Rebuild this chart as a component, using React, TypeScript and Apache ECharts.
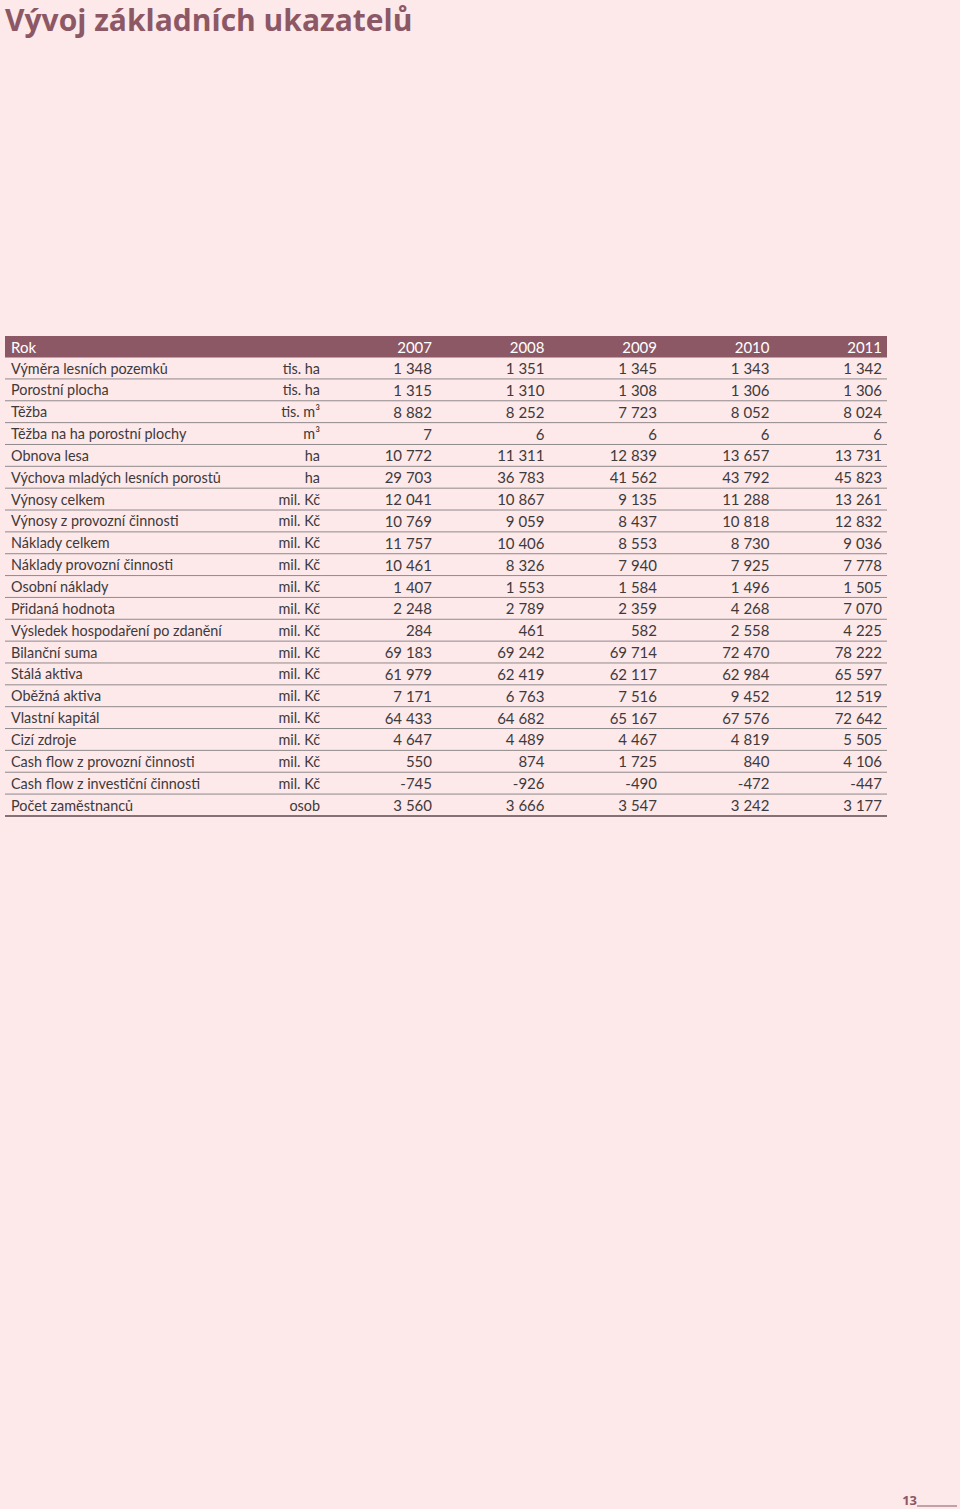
import React, { useEffect, useRef } from "react";
import * as echarts from "echarts";

const title = "Vývoj základních ukazatelů";
const years = ["2007", "2008", "2009", "2010", "2011"];
const rowLabels = [
  "Výměra lesních pozemků",
  "Porostní plocha",
  "Těžba",
  "Těžba na ha porostní plochy",
  "Obnova lesa",
  "Výchova mladých lesních porostů",
  "Výnosy celkem",
  "Výnosy z provozní činnosti",
  "Náklady celkem",
  "Náklady provozní činnosti",
  "Osobní náklady",
  "Přidaná hodnota",
  "Výsledek hospodaření po zdanění",
  "Bilanční suma",
  "Stálá aktiva",
  "Oběžná aktiva",
  "Vlastní kapitál",
  "Cizí zdroje",
  "Cash flow z provozní činnosti",
  "Cash flow z investiční činnosti",
  "Počet zaměstnanců",
];
const units = [
  "tis. ha", "tis. ha", "tis. m³", "m³", "ha", "ha",
  "mil. Kč", "mil. Kč", "mil. Kč", "mil. Kč", "mil. Kč", "mil. Kč", "mil. Kč",
  "mil. Kč", "mil. Kč", "mil. Kč", "mil. Kč", "mil. Kč", "mil. Kč", "mil. Kč",
  "osob",
];
const values2007 = [1348, 1315, 8882, 7, 10772, 29703, 12041, 10769, 11757, 10461, 1407, 2248, 284, 69183, 61979, 7171, 64433, 4647, 550, -745, 3560];
const values2008 = [1351, 1310, 8252, 6, 11311, 36783, 10867, 9059, 10406, 8326, 1553, 2789, 461, 69242, 62419, 6763, 64682, 4489, 874, -926, 3666];
const values2009 = [1345, 1308, 7723, 6, 12839, 41562, 9135, 8437, 8553, 7940, 1584, 2359, 582, 69714, 62117, 7516, 65167, 4467, 1725, -490, 3547];
const values2010 = [1343, 1306, 8052, 6, 13657, 43792, 11288, 10818, 8730, 7925, 1496, 4268, 2558, 72470, 62984, 9452, 67576, 4819, 840, -472, 3242];
const values2011 = [1342, 1306, 8024, 6, 13731, 45823, 13261, 12832, 9036, 7778, 1505, 7070, 4225, 78222, 65597, 12519, 72642, 5505, 4106, -447, 3177];
const pageNumber = "13";

const FONT = "Lato, 'Open Sans', sans-serif";
const TITLE_FONT = "'Open Sans', 'Noto Sans', sans-serif";
const ACCENT = "#8c5865";
const TEXT = "#3e3a3b";

function fmt(v: number): string {
  const s = Math.abs(v).toString();
  const out = s.replace(/\B(?=(\d{3})+(?!\d))/g, " ");
  return (v < 0 ? "-" : "") + out;
}

export default function App() {
  const ref = useRef<HTMLDivElement>(null);
  useEffect(() => {
    document.body.style.margin = "0";
    const chart = echarts.init(ref.current!, null, { renderer: "svg" });
    const cols = [values2007, values2008, values2009, values2010, values2011];
    const left = 5;
    const right = 887;
    const headTop = 336;
    const headH = 21.5;
    const rowH = 21.85;
    const firstCenter = 368;
    const labelX = 11;
    const unitX = 320;
    const colX = [432, 544.5, 657, 769.5, 882];
    const fs = 15;
    const fsLabel = 14.4;

    const g: any[] = [];
    g.push({
      type: "text", x: 5, y: 19,
      style: { text: title, fill: ACCENT, font: `bold 30px ${TITLE_FONT}`, verticalAlign: "middle", align: "left" },
    });
    g.push({
      type: "rect", shape: { x: left, y: headTop, width: right - left, height: headH },
      style: { fill: ACCENT },
    });
    g.push({
      type: "text", x: labelX, y: headTop + headH / 2 + 0.5,
      style: { text: "Rok", fill: "#ffffff", font: `${fs}px ${FONT}`, verticalAlign: "middle", align: "left" },
    });
    years.forEach((y, j) => {
      g.push({
        type: "text", x: colX[j], y: headTop + headH / 2 + 0.5,
        style: { text: y, fill: "#ffffff", font: `${fs}px ${FONT}`, verticalAlign: "middle", align: "right" },
      });
    });
    rowLabels.forEach((lab, i) => {
      const cy = firstCenter + i * rowH;
      g.push({
        type: "text", x: labelX, y: cy,
        style: { text: lab, fill: TEXT, font: `${fsLabel}px ${FONT}`, verticalAlign: "middle", align: "left" },
      });
      g.push({
        type: "text", x: unitX, y: cy,
        style: { text: units[i], fill: TEXT, font: `${fsLabel}px ${FONT}`, verticalAlign: "middle", align: "right" },
      });
      cols.forEach((col, j) => {
        g.push({
          type: "text", x: colX[j], y: cy,
          style: { text: fmt(col[i]), fill: TEXT, font: `${fs}px ${FONT}`, verticalAlign: "middle", align: "right" },
        });
      });
      const ly = cy + rowH / 2;
      const last = i === rowLabels.length - 1;
      g.push({
        type: "line", shape: { x1: left, y1: ly, x2: right, y2: ly },
        style: { stroke: last ? "#5a4a4e" : "#8f8a8b", lineWidth: last ? 1.6 : 1 },
      });
    });
    g.push({
      type: "text", x: 917, y: 1500,
      style: { text: pageNumber, fill: ACCENT, font: `bold 13px ${TITLE_FONT}`, verticalAlign: "middle", align: "right" },
    });
    g.push({
      type: "line", shape: { x1: 917, y1: 1506, x2: 957, y2: 1506 },
      style: { stroke: ACCENT, lineWidth: 1 },
    });

    chart.setOption({
      animation: false,
      backgroundColor: "#fde8ea",
      graphic: g,
    });
    return () => chart.dispose();
  }, []);
  return <div ref={ref} style={{ width: 960, height: 1509 }} />;
}
